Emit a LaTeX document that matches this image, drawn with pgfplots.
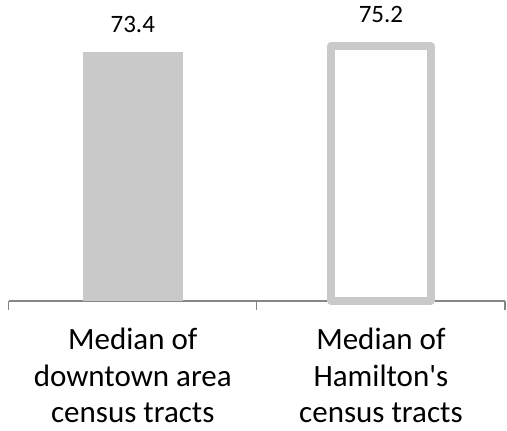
\documentclass[border=0pt]{standalone}
\usepackage{fontspec}
\setmainfont{Carlito}
\usepackage{pgfplots}
\pgfplotsset{compat=1.18}
\definecolor{barg}{RGB}{201,201,201}
\definecolor{axg}{RGB}{134,134,134}
\begin{document}
\begin{tikzpicture}
\useasboundingbox (-8.7pt,-130pt) rectangle (498.3pt,301pt);
\begin{axis}[
  anchor=south west, at={(0,0)},
  scale only axis, width=496.3pt, height=271.4pt,
  xmin=0.5, xmax=2.5, ymin=0, ymax=80,
  axis y line=none, axis x line*=bottom,
  x axis line style={axg, line width=1.2pt, -},
  /pgf/number format/assume math mode=true,
  xtick={1,2}, xticklabels={{Median of\\downtown area\\census tracts},{Median of\\Hamilton\textquotesingle s\\census tracts}},
  major tick length=0pt,
  minor xtick={0.5,1.5,2.5}, minor tick length=9pt, tick align=outside,
  minor tick style={axg, line width=1.2pt},
  xticklabel style={align=center, font=\fontsize{31}{36.5}\selectfont, inner sep=0pt, anchor=north, yshift=-27pt},
  ybar, bar width=100pt, bar shift=0pt,
  clip=false,
  nodes near coords, every node near coord/.append style={font=\fontsize{25}{30}\selectfont, inner sep=0pt, anchor=south, yshift=19pt, black},
]
\addplot[fill=barg, draw=none] coordinates {(1,73.4)};
\addplot[fill=white, draw=barg, line width=7.5pt, line join=round] coordinates {(2,75.2)};
\end{axis}
\end{tikzpicture}
\end{document}
